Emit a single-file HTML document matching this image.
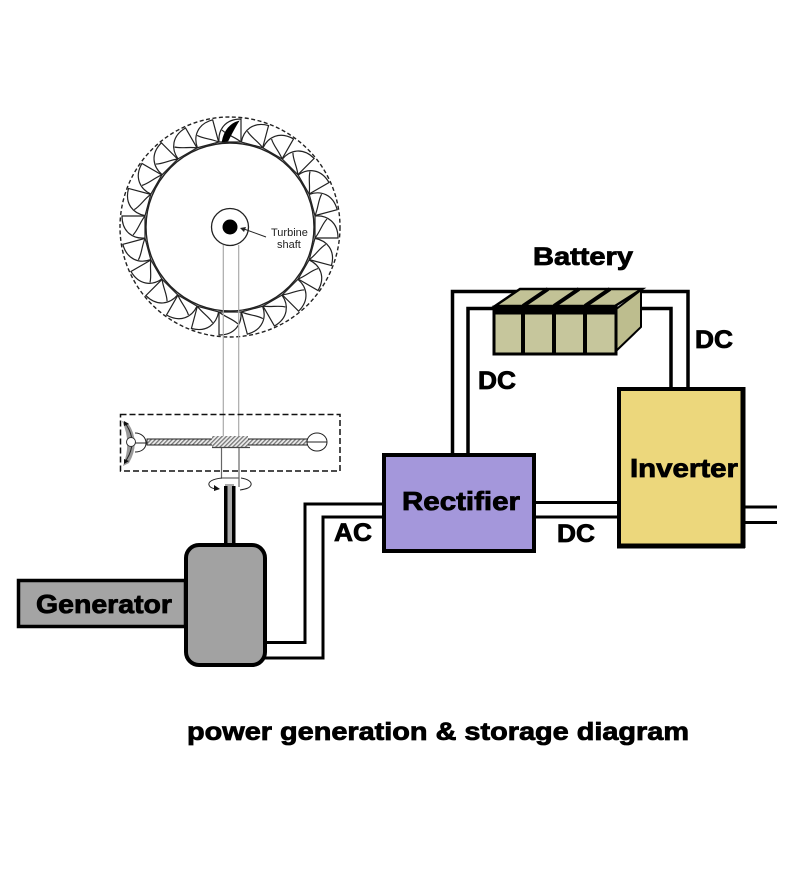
<!DOCTYPE html>
<html><head><meta charset="utf-8"><style>
html,body{margin:0;padding:0;background:#fff}
svg{display:block}
text{font-family:"Liberation Sans",sans-serif}
.b{font-weight:bold;fill:#000;stroke:#000;stroke-width:.8}
</style></head><body>
<svg width="800" height="877" viewBox="0 0 800 877" xmlns="http://www.w3.org/2000/svg">
<defs>
<pattern id="h" width="3" height="3" patternUnits="userSpaceOnUse" patternTransform="rotate(45)">
<rect width="3" height="3" fill="#eee"/><rect width="1.3" height="3" fill="#777"/>
</pattern>
<g id="k" fill="#fff" stroke="#222" stroke-width="1.2">
<path d="M85 11H108C108 -5 97 -12 85 -11L85 11Z"/>
<path d="M85 11C90 5 92 -3 97 -8" fill="none"/>
</g>
</defs>
<rect width="800" height="877" fill="#fff"/>

<!-- wheel -->
<g transform="translate(230 227)">
<circle r="110" fill="none" stroke="#222" stroke-width="1.4" stroke-dasharray="4 2.5"/>
<use href="#k"/><use href="#k" transform="rotate(15)"/><use href="#k" transform="rotate(30)"/>
<use href="#k" transform="rotate(45)"/><use href="#k" transform="rotate(60)"/><use href="#k" transform="rotate(75)"/>
<use href="#k" transform="rotate(90)"/><use href="#k" transform="rotate(105)"/><use href="#k" transform="rotate(120)"/>
<use href="#k" transform="rotate(135)"/><use href="#k" transform="rotate(150)"/><use href="#k" transform="rotate(165)"/>
<use href="#k" transform="rotate(180)"/><use href="#k" transform="rotate(195)"/><use href="#k" transform="rotate(210)"/>
<use href="#k" transform="rotate(225)"/><use href="#k" transform="rotate(240)"/><use href="#k" transform="rotate(255)"/>
<use href="#k" transform="rotate(270)"/><use href="#k" transform="rotate(285)"/><use href="#k" transform="rotate(300)"/>
<use href="#k" transform="rotate(315)"/><use href="#k" transform="rotate(330)"/>
<use href="#k" transform="rotate(345)"/>
<circle r="84" fill="#fff" stroke="#222" stroke-width="1.4"/>
<path d="M-8 -85C-6 -97 1 -104 9 -106C5 -100 2 -94 -2 -86Z" fill="#000" stroke="#000" stroke-width=".6"/>
<circle r="18.500" fill="#fff" stroke="#222" stroke-width="1.300"/>
<circle r="7.500" fill="#000"/>
</g>
<path d="M223.300 245V448M238.700 245V448" stroke="#aaa" stroke-width="1.200" fill="none"/>
<path d="M266 237L244 229" stroke="#222" stroke-width="1"/>
<path d="M240 228L246 227L244 232Z" fill="#222"/>
<text x="271" y="236" font-size="11" fill="#222">Turbine</text>
<text x="277" y="248" font-size="11" fill="#222">shaft</text>

<!-- governor -->
<rect x="120.500" y="414.500" width="219.500" height="56.500" fill="none" stroke="#111" stroke-width="1.500" stroke-dasharray="6 3"/>
<path d="M122 421L128 423Q141 442 129 463L123 466Q132 442 122 421Z" fill="#999"/>
<path d="M125 423Q139 442 125 462" fill="none" stroke="#222" stroke-width="1"/>
<path d="M124 421L129 424L124 426ZM124 464L129 461L124 459Z" fill="#111"/>
<path d="M135 433C141 433 146 437 146 443C146 449 141 452 135 452M133 443H146" fill="#fff" stroke="#222" stroke-width="1"/>
<circle cx="131" cy="442" r="4.500" fill="#fff" stroke="#333" stroke-width="1"/>
<rect x="147" y="439" width="162" height="6" fill="url(#h)" stroke="#222" stroke-width="1"/>
<rect x="212" y="436" width="36" height="11" fill="url(#h)"/>
<path d="M212 447.500H250" stroke="#444" stroke-width="1.200"/>
<ellipse cx="317" cy="442" rx="10" ry="9" fill="#fff" stroke="#222" stroke-width="1"/>
<path d="M307 442H327" stroke="#222" stroke-width="1"/>
<path d="M221.500 448V478H239M239 448V487" stroke="#666" stroke-width="1.200" fill="none"/>
<path d="M222 478C212 479 208 482 209 485C210 488 214 489 219 489M241 478C248 479 252 482 251 485C250 488 246 489 240 490" fill="none" stroke="#222" stroke-width="1"/>
<path d="M220 489L214 485L214 491Z" fill="#111"/>

<!-- shaft -->
<rect x="225" y="484" width="9" height="60" fill="#aaa"/>
<rect x="224" y="486" width="3.500" height="58" fill="#000"/>
<rect x="232" y="486" width="3.500" height="58" fill="#000"/>

<!-- AC wires -->
<path d="M264 642.500H305V504H383M264 658H323V517H383" fill="none" stroke="#000" stroke-width="3"/>

<!-- generator -->
<rect x="18.500" y="580.500" width="167" height="46" fill="#a4a4a4" stroke="#000" stroke-width="3.500"/>
<rect x="186" y="545" width="79" height="120" rx="13" fill="#a2a2a2" stroke="#000" stroke-width="4"/>
<text class="b" x="36" y="613" font-size="26" textLength="136" lengthAdjust="spacingAndGlyphs">Generator</text>
<text class="b" x="334" y="541" font-size="25" textLength="38" lengthAdjust="spacingAndGlyphs">AC</text>

<!-- DC wires -->
<path d="M452.500 455V291.500H688V388M468 455V308.500H671V388" fill="none" stroke="#000" stroke-width="3.500"/>
<path d="M536 502.500H618M536 517H618M745 507H777M745 522.500H777" fill="none" stroke="#000" stroke-width="3"/>

<!-- battery -->
<path d="M495 306L520 289H642L615 306Z" fill="#c2c296" stroke="#000" stroke-width="2.500"/>
<path d="M615 310L641 290V327L615 352Z" fill="#bdbd8e" stroke="#000" stroke-width="2"/>
<rect x="494" y="307" width="122" height="47" fill="#c6c69c" stroke="#000" stroke-width="3"/>
<path d="M493 310H616" stroke="#000" stroke-width="9"/>
<path d="M523 306V354M554 306V354M585 306V354" stroke="#000" stroke-width="4"/>
<path d="M523 306L548 289M554 306L579 289M585 306L610 289" stroke="#000" stroke-width="4"/>
<text class="b" x="533" y="265" font-size="25" textLength="100" lengthAdjust="spacingAndGlyphs">Battery</text>
<text class="b" x="478" y="389" font-size="25" textLength="38" lengthAdjust="spacingAndGlyphs">DC</text>
<text class="b" x="695" y="348" font-size="25" textLength="38" lengthAdjust="spacingAndGlyphs">DC</text>
<text class="b" x="557" y="542" font-size="25" textLength="38" lengthAdjust="spacingAndGlyphs">DC</text>

<!-- rectifier -->
<rect x="384" y="455" width="150" height="96" fill="#a497db" stroke="#000" stroke-width="4"/>
<text class="b" x="402" y="510" font-size="26" textLength="118" lengthAdjust="spacingAndGlyphs">Rectifier</text>

<!-- inverter -->
<rect x="619" y="389" width="124" height="157" fill="#ecd77c" stroke="#000" stroke-width="4"/>
<path d="M743 387V548" stroke="#000" stroke-width="5"/>
<path d="M617 546H745" stroke="#000" stroke-width="5"/>
<text class="b" x="630" y="477" font-size="26" textLength="108" lengthAdjust="spacingAndGlyphs">Inverter</text>

<text class="b" x="187" y="740" font-size="25" textLength="502" lengthAdjust="spacingAndGlyphs">power generation &amp; storage diagram</text>
</svg>
</body></html>
